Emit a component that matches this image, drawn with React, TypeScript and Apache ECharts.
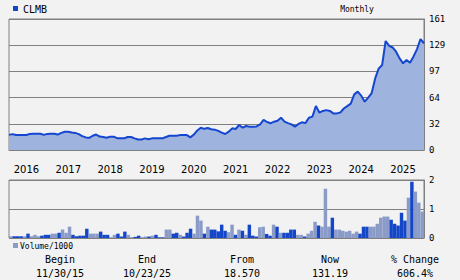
import React, { useEffect, useRef } from "react";
import * as echarts from "echarts";

const startYear = 2015;
const startMonth = 11; // November 2015

const price: number[] = [
  18.6, 19.5, 18.4, 18.4, 18.4, 18.4, 19.8, 20, 20, 20,
  18.6, 19.8, 20, 20, 19, 21, 22.5, 22.5, 21.5, 21,
  19.5, 17, 15.5, 15, 17.5, 19, 16.5, 16, 15, 16.4,
  16.4, 14.5, 14.3, 14.3, 16, 16, 14.3, 13, 13, 14.3,
  13.2, 14.3, 14.3, 14.3, 14.3, 16, 17.5, 17.5, 17.5, 18.3,
  18.3, 18.3, 15.5, 19, 24, 27.4, 26, 27, 25.5, 25,
  23.5, 21.3, 19.7, 22.5, 26.6, 25.8, 30.7, 27.4, 29.5, 28.7,
  28.7, 29, 31.5, 36.9, 34.4, 32.8, 34.8, 36, 39.7, 34.8,
  33, 31.5, 28.7, 32, 34, 33, 39.7, 41, 54, 46,
  48, 49, 48, 45, 45, 46, 51, 54, 57, 68.4,
  71.7, 66.8, 59.4, 64.3, 70, 88, 100, 104.5, 134, 128,
  126, 120.8, 112.6, 106.5, 110.6, 107.3, 115, 124, 136.4, 131.19,
];

const volume: number[] = [
  0.06, 0.06, 0.06, 0.06, 0.06, 0.15, 0.06, 0.11, 0.06, 0.08,
  0.11, 0.11, 0.15, 0.15, 0.18, 0.29, 0.18, 0.39, 0.11, 0.06,
  0.08, 0.08, 0.32, 0.15, 0.15, 0.15, 0.22, 0.11, 0.11, 0.02,
  0.11, 0.15, 0.05, 0.22, 0.11, 0.02, 0.04, 0.08, 0.02, 0.05,
  0.05, 0.08, 0.11, 0.02, 0.02, 0.29, 0.29, 0.15, 0.18, 0.11,
  0.05, 0.18, 0.32, 0.15, 0.77, 0.6, 0.15, 0.39, 0.29, 0.29,
  0.23, 0.46, 0.25, 0.2, 0.46, 0.11, 0.29, 0.25, 0.11, 0.46,
  0.08, 0.05, 0.37, 0.39, 0.14, 0.08, 0.46, 0.39, 0.18, 0.18,
  0.18, 0.29, 0.29, 0.11, 0.11, 0.05, 0.15, 0.25, 0.56, 0.43,
  0.39, 1.7, 0.39, 0.7, 0.29, 0.29, 0.25, 0.22, 0.25, 0.15,
  0.22, 0.15, 0.39, 0.39, 0.39, 0.39, 0.49, 0.7, 0.74, 0.74,
  0.63, 0.49, 0.43, 0.87, 0.6, 1.39, 1.94, 1.6, 1.22, 0.91,
];

// 1 = dark bar, 0 = light bar
const volDark: number[] = [
  0, 1, 1, 1, 0, 1, 0, 0, 0, 1,
  1, 1, 0, 0, 1, 0, 0, 0, 1, 1,
  1, 1, 1, 0, 0, 0, 1, 1, 1, 0,
  0, 1, 1, 1, 0, 0, 1, 1, 0, 0,
  1, 0, 1, 1, 1, 0, 0, 1, 1, 0,
  1, 1, 1, 0, 0, 0, 1, 0, 1, 1,
  1, 1, 1, 0, 0, 1, 0, 1, 0, 1,
  1, 1, 0, 0, 1, 1, 0, 1, 0, 1,
  1, 1, 1, 0, 0, 1, 0, 0, 0, 1,
  0, 0, 0, 1, 0, 0, 0, 0, 0, 0,
  0, 1, 1, 1, 0, 0, 0, 0, 0, 0,
  1, 1, 1, 1, 1, 0, 1, 0, 0, 0,
];

const priceTicks = [0, 32, 64, 97, 129, 161];
const volTicks = [0, 1, 2];

const summaryHeaders = ["Begin", "End", "From", "Now", "% Change"];
const summaryValues = ["11/30/15", "10/23/25", "18.570", "131.19", "606.4%"];
const summaryX = [60, 147, 242, 330, 415];

const categories: string[] = price.map((_, i) => {
  const m = startMonth - 1 + i;
  const y = startYear + Math.floor(m / 12);
  const mm = (m % 12) + 1;
  return `${y}-${mm < 10 ? "0" + mm : mm}`;
});

const GRID = "#808080";
const MONO = "DejaVu Sans Mono";
const DARK = "#1446c8";
const LIGHT = "#8a9bc8";

export default function App() {
  const ref = useRef<HTMLDivElement>(null);
  useEffect(() => {
    if (!ref.current) return;
    const chart = echarts.init(ref.current, undefined, { renderer: "svg" });
    const graphics: any[] = [
      { type: "rect", shape: { x: 13, y: 6, width: 5, height: 5 }, style: { fill: DARK } },
      {
        type: "text", x: 23, y: 9,
        style: { text: "CLMB", font: `10px ${MONO}`, fill: "#000", verticalAlign: "middle" },
      },
      {
        type: "text", x: 357, y: 9,
        style: { text: "Monthly", font: `8px ${MONO}`, fill: "#000", align: "center", verticalAlign: "middle" },
      },
      { type: "rect", shape: { x: 13, y: 243, width: 5, height: 5 }, style: { fill: LIGHT } },
      {
        type: "text", x: 20, y: 246,
        style: { text: "Volume/1000", font: `8px ${MONO}`, fill: "#000", verticalAlign: "middle" },
      },
    ];
    summaryHeaders.forEach((h, i) => {
      graphics.push({
        type: "text", x: summaryX[i], y: 259,
        style: { text: h, font: `10px ${MONO}`, fill: "#000", align: "center", verticalAlign: "middle" },
      });
      graphics.push({
        type: "text", x: summaryX[i], y: 273,
        style: { text: summaryValues[i], font: `10px ${MONO}`, fill: "#000", align: "center", verticalAlign: "middle" },
      });
    });

    chart.setOption({
      animation: false,
      backgroundColor: "#f2f2f2",
      grid: [
        { left: 9, right: 36, top: 19, height: 131, show: true, borderColor: GRID, borderWidth: 1, backgroundColor: "transparent" },
        { left: 9, right: 36, top: 180, height: 58, show: true, borderColor: GRID, borderWidth: 1, backgroundColor: "transparent" },
      ],
      xAxis: [
        {
          type: "category", gridIndex: 0, data: categories, boundaryGap: false,
          axisLine: { show: true, lineStyle: { color: GRID } },
          axisTick: { show: false },
          splitLine: { show: false },
          axisLabel: {
            interval: (idx: number) => (idx - 5) % 12 === 0 && idx >= 5,
            formatter: (v: string) => v.slice(0, 4),
            fontFamily: "DejaVu Sans", fontSize: 10, color: "#000", margin: 14,
          },
        },
        {
          type: "category", gridIndex: 1, data: categories, boundaryGap: true,
          axisLine: { show: false }, axisTick: { show: false }, axisLabel: { show: false },
          splitLine: { show: false },
        },
      ],
      yAxis: [
        {
          type: "value", gridIndex: 0, position: "right", min: 0, max: priceTicks[priceTicks.length - 1],
          interval: priceTicks[priceTicks.length - 1] / 5,
          axisLine: { show: true, lineStyle: { color: GRID } },
          axisTick: { show: false },
          splitLine: { show: true, lineStyle: { color: GRID, width: 1 } },
          axisLabel: {
            formatter: (v: number) => String(Math.round(v)),
            fontFamily: MONO, fontSize: 9, color: "#000", margin: 5,
          },
        },
        {
          type: "value", gridIndex: 1, position: "right", min: 0, max: volTicks[volTicks.length - 1], interval: 1,
          axisLine: { show: true, lineStyle: { color: GRID } },
          axisTick: { show: false },
          splitLine: { show: true, lineStyle: { color: GRID, width: 1 } },
          axisLabel: { fontFamily: MONO, fontSize: 9, color: "#000", margin: 5 },
        },
      ],
      series: [
        {
          type: "line", xAxisIndex: 0, yAxisIndex: 0, data: price, symbol: "none",
          lineStyle: { color: "#1446d0", width: 2 },
          areaStyle: { color: "#9fb3df", opacity: 1 },
          z: 3,
        },
        {
          type: "bar", xAxisIndex: 1, yAxisIndex: 1, barCategoryGap: "0%",
          data: volume.map((v, i) => ({ value: v, itemStyle: { color: volDark[i] ? DARK : LIGHT } })),
          z: 3,
        },
      ],
      graphic: graphics,
    });
    return () => chart.dispose();
  }, []);
  return (
    <div
      ref={ref}
      style={{ position: "fixed", left: 0, top: 0, width: 460, height: 280, background: "#f2f2f2" }}
    />
  );
}
